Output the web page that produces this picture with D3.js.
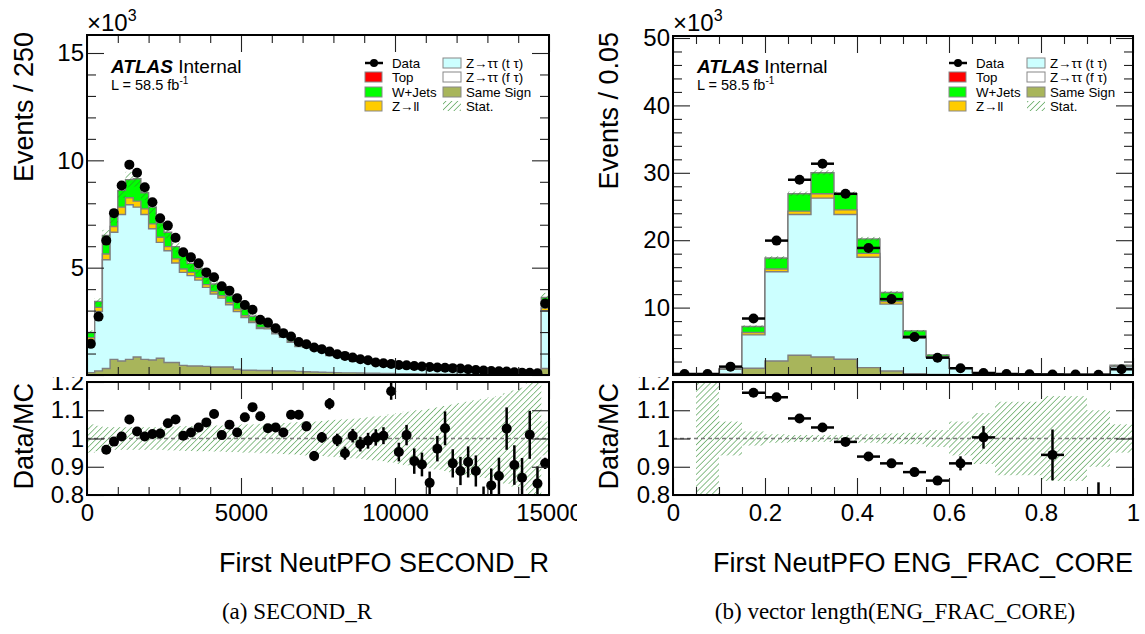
<!DOCTYPE html>
<html><head><meta charset="utf-8">
<script src="https://cdn.jsdelivr.net/npm/d3@7"></script>
<style>body{margin:0;background:#fff}svg{display:block}</style>
</head><body>
<script>
// ---------------- DATA (values in units of 10^3 events) ----------------
// (a) SECOND_R : 60 bins of 250 from 0 to 15000
const secondR_edges = d3.range(0, 15001, 250);
const secondR_data = [1.45,2.72,6.26,7.54,8.83,9.80,9.42,8.75,8.05,7.30,6.96,6.39,5.72,5.48,5.20,4.78,4.55,4.13,3.93,3.58,3.26,3.04,2.57,2.44,2.18,1.95,1.79,1.54,1.43,1.28,1.20,1.09,0.97,0.89,0.81,0.73,0.69,0.58,0.55,0.51,0.47,0.45,0.42,0.40,0.37,0.35,0.34,0.32,0.30,0.27,0.23,0.21,0.19,0.17,0.16,0.13,0.11,0.10,0.08,3.33];
const secondR_sameSign = [0.11,0.19,0.30,0.73,0.65,0.73,0.84,0.73,0.70,0.78,0.58,0.58,0.45,0.42,0.42,0.40,0.37,0.37,0.37,0.27,0.22,0.22,0.21,0.21,0.19,0.19,0.19,0.17,0.15,0.14,0.13,0.12,0.11,0.10,0.10,0.09,0.08,0.08,0.07,0.07,0.06,0.06,0.06,0.05,0.05,0.05,0.04,0.04,0.04,0.04,0.03,0.03,0.03,0.03,0.02,0.02,0.02,0.02,0.02,0.30];
const secondR_zttT = [1.51,2.77,5.07,5.92,6.83,7.20,6.98,6.75,6.11,5.40,5.21,4.64,4.33,4.21,4.00,3.68,3.40,3.21,2.90,2.69,2.46,2.22,1.95,1.94,1.73,1.57,1.33,1.15,1.14,1.15,1.00,0.79,0.80,0.78,0.66,0.61,0.58,0.47,0.44,0.34,0.40,0.35,0.37,0.36,0.36,0.29,0.27,0.29,0.28,0.24,0.22,0.23,0.19,0.16,0.12,0.11,0.11,0.08,0.075,2.69];
const secondR_zll = [0.12,0.19,0.27,0.27,0.34,0.33,0.28,0.26,0.23,0.24,0.19,0.19,0.16,0.15,0.13,0.13,0.12,0.11,0.11,0.11,0.08,0.07,0.06,0.06,0.05,0.04,0.04,0.03,0.03,0.02,0.02,0.02,0.02,0.02,0.01,0.01,0.01,0.01,0.01,0.01,0.01,0.01,0.01,0.01,0.01,0.01,0.01,0.01,0.01,0,0,0,0,0,0,0,0,0,0,0.13];
const secondR_wjets = [0.24,0.28,0.86,0.46,0.78,0.84,1.04,0.75,0.78,0.67,0.67,0.57,0.62,0.42,0.39,0.34,0.35,0.27,0.31,0.34,0.31,0.23,0.16,0.15,0.13,0.11,0.09,0.07,0.05,0.05,0.05,0.04,0.04,0.04,0.03,0.03,0.03,0.02,0.02,0.02,0.02,0.02,0.02,0.02,0.02,0.01,0.01,0.01,0.01,0.01,0.01,0.01,0.01,0.01,0.01,0.01,0,0,0,0.49];
const secondR_ratio = [null,null,0.960,0.989,1.007,1.067,1.025,1.007,1.016,1.018,1.054,1.067,1.010,1.021,1.039,1.057,1.087,1.012,1.049,1.021,1.075,1.111,1.079,1.036,1.039,1.021,1.084,1.084,1.043,0.938,1.004,1.123,0.995,0.948,1.010,0.980,0.992,1.004,1.010,1.167,0.952,1.012,0.920,0.908,0.843,0.964,1.036,0.912,0.885,0.917,0.885,0.760,0.834,0.867,1.035,0.906,0.861,1.013,0.841,0.912];
const secondR_ratioErr = [0,0,0.006,0.006,0.006,0.006,0.006,0.006,0.006,0.006,0.007,0.007,0.007,0.008,0.008,0.008,0.009,0.009,0.01,0.01,0.011,0.011,0.012,0.012,0.013,0.014,0.015,0.016,0.017,0.018,0.019,0.02,0.022,0.023,0.024,0.026,0.028,0.029,0.03,0.03,0.033,0.036,0.045,0.042,0.04,0.045,0.06,0.05,0.05,0.055,0.055,0.07,0.06,0.065,0.075,0.07,0.07,0.085,0.06,0.02];
const secondR_statBand = [0.05,0.045,0.04,0.04,0.04,0.04,0.04,0.04,0.04,0.04,0.042,0.042,0.044,0.044,0.045,0.045,0.046,0.046,0.048,0.048,0.05,0.05,0.052,0.052,0.054,0.055,0.056,0.058,0.06,0.06,0.062,0.064,0.066,0.068,0.07,0.072,0.075,0.078,0.08,0.085,0.09,0.095,0.1,0.1,0.105,0.11,0.115,0.12,0.125,0.13,0.135,0.14,0.145,0.15,0.16,0.17,0.18,0.2,0.22,0.06];

// (b) ENG_FRAC_CORE : 20 bins of 0.05 from 0 to 1
const engFrac_edges = d3.range(0, 1.0001, 0.05);
const engFrac_data = [0.15,0.15,1.24,8.38,19.94,28.97,31.35,26.89,18.85,11.26,5.65,2.57,1.00,0.30,0.15,0.10,0.08,0.06,0.05,0.85];
const engFrac_sameSign = [0,0,0.20,1.00,2.08,2.93,2.68,2.33,1.09,0.60,0.20,0.10,0.05,0.02,0.01,0.01,0,0,0,0.05];
const engFrac_zttT = [0.02,0.03,0.64,4.95,13.25,20.88,23.56,21.48,16.37,9.92,5.26,2.55,0.95,0.30,0.12,0.06,0.08,0.04,0.06,1.15];
const engFrac_zll = [0,0,0.02,0.35,0.39,0.50,0.65,0.69,0.59,0.39,0.30,0.05,0.02,0.01,0,0,0,0,0,0.05];
const engFrac_wjets = [0,0,0.02,0.89,1.64,2.58,3.12,2.39,2.14,1.34,0.79,0.28,0.08,0.02,0.01,0.01,0.005,0.005,0.005,0.19];
const engFrac_ratio = [null,null,null,1.162,1.146,1.071,1.039,0.988,0.936,0.912,0.881,0.851,0.912,1.004,null,null,0.942,null,0.70,null];
const engFrac_ratioErr = [0,0,0,0.004,0.003,0.003,0.003,0.003,0.003,0.004,0.005,0.008,0.025,0.04,0,0,0.09,0,0.145,0];
const engFrac_statBand = [null,1.0,0.06,0.025,0.015,0.012,0.012,0.012,0.015,0.018,0.02,0.03,0.06,0.09,0.13,0.13,0.15,0.15,0.1,0.05];

// tick labels
const secondR_xTicks = [0, 5000, 10000, 15000];
const secondR_yTicks = [0, 5, 10, 15];
const engFrac_xTicks = [0, 0.2, 0.4, 0.6, 0.8, 1];
const engFrac_yTicks = [0, 10, 20, 30, 40, 50];
const ratio_yTicks = [0.8, 0.9, 1, 1.1, 1.2];

const legendCol1 = ["Data", "Top", "W+Jets", "Z\u2192ll"];
const legendCol2 = ["Z\u2192\u03c4\u03c4 (t \u03c4)", "Z\u2192\u03c4\u03c4 (f \u03c4)", "Same Sign", "Stat."];

// ---------------- STYLE ----------------
const SANS = "'Liberation Sans', Arial, Helvetica, sans-serif";
const SERIF = "'Liberation Serif', 'Times New Roman', serif";
const COL = {ss:"#a8b55b", ztt:"#ccffff", zttf:"#ffffff", zll:"#ffcc00", wj:"#00ff00", top:"#ff0000", edge:"#7f7f7f"};

const svg = d3.select("body").append("svg").attr("width",1145).attr("height",634);
svg.append("rect").attr("width",1145).attr("height",634).attr("fill","#fff");
const defs = svg.append("defs");
defs.append("pattern").attr("id","hatch").attr("patternUnits","userSpaceOnUse")
  .attr("width",4.2).attr("height",4.2).attr("patternTransform","rotate(45)")
  .append("line").attr("x1",0).attr("y1",0).attr("x2",0).attr("y2",4.2)
  .attr("stroke","#2e8b2e").attr("stroke-width",1.1);

function fmtNum(d){ return String(+d.toFixed(2)); }
function fmtNoZero(d){ return d === 0 ? "" : fmtNum(d); }

function drawPanel(p){
  const g = svg.append("g");
  const id = p.id;
  const x = d3.scaleLinear().domain([p.edges[0], p.edges[p.edges.length-1]]).range([p.x0, p.x1]);
  const y = d3.scaleLinear().domain([0, p.ymaxTick]).range([p.yBase, p.yTickTop]);
  const r = d3.scaleLinear().domain([0.8, 1.2]).range([p.rBot, p.rTop]);
  const n = p.data.length;

  defs.append("clipPath").attr("id","top"+id).append("rect")
    .attr("x",p.x0).attr("y",p.yTop).attr("width",p.x1-p.x0).attr("height",p.yBase-p.yTop);
  defs.append("clipPath").attr("id","rat"+id).append("rect")
    .attr("x",p.x0).attr("y",p.rTop).attr("width",p.x1-p.x0).attr("height",p.rBot-p.rTop);

  // ---- ratio pad ----
  const rg = g.append("g");
  const rc = rg.append("g").attr("clip-path",`url(#rat${id})`);
  rc.selectAll("rect.band").data(p.band.map((b,i)=>({b,i})).filter(d=>d.b!==null)).join("rect")
    .attr("x",d=>x(p.edges[d.i])).attr("width",d=>x(p.edges[d.i+1])-x(p.edges[d.i]))
    .attr("y",d=>r(1+d.b)).attr("height",d=>r(1-d.b)-r(1+d.b)).attr("fill","url(#hatch)");
  rc.append("line").attr("x1",p.x0).attr("x2",p.x1).attr("y1",r(1)).attr("y2",r(1))
    .attr("stroke","#7a7a7a").attr("stroke-width",1.3).attr("stroke-dasharray","4,3");
  const rpts = p.ratio.map((v,i)=>({v,i,e:p.ratioErr[i]})).filter(d=>d.v!==null);
  rc.selectAll("line.ve").data(rpts).join("line")
    .attr("x1",d=>x((p.edges[d.i]+p.edges[d.i+1])/2)).attr("x2",d=>x((p.edges[d.i]+p.edges[d.i+1])/2))
    .attr("y1",d=>r(d.v-d.e)).attr("y2",d=>r(d.v+d.e)).attr("stroke","#000").attr("stroke-width",2.5);
  rc.selectAll("line.he").data(rpts).join("line")
    .attr("x1",d=>x(p.edges[d.i])).attr("x2",d=>x(p.edges[d.i+1]))
    .attr("y1",d=>r(d.v)).attr("y2",d=>r(d.v)).attr("stroke","#000").attr("stroke-width",2.5);
  rc.selectAll("circle").data(rpts).join("circle")
    .attr("cx",d=>x((p.edges[d.i]+p.edges[d.i+1])/2)).attr("cy",d=>r(d.v)).attr("r",p.dotR).attr("fill","#000");

  // ratio axes
  const tickStroke = g2 => { g2.select(".domain").remove(); g2.selectAll(".tick line").attr("stroke","#222").attr("stroke-width",1.1); g2.selectAll("text").attr("font-family",SANS).attr("font-size",24).attr("fill","#000"); };
  rg.append("g").attr("transform",`translate(${p.x0},0)`)
    .call(d3.axisLeft(r).tickValues(ratio_yTicks).tickSize(-17).tickPadding(3).tickFormat(fmtNum)).call(tickStroke);
  rg.append("g").attr("transform",`translate(${p.x1},0)`)
    .call(d3.axisRight(r).tickValues(ratio_yTicks).tickSize(-17).tickFormat("")).call(tickStroke);
  const xlab = rg.append("g").attr("clip-path", p.labelClip ? `url(#lc${id})` : null);
  if (p.labelClip) defs.append("clipPath").attr("id","lc"+id).append("rect").attr("x",0).attr("y",0).attr("width",p.labelClip).attr("height",634);
  xlab.append("g").attr("transform",`translate(0,${p.rBot})`)
    .call(d3.axisBottom(x).tickValues(p.xTicks).tickSize(-17).tickPadding(9).tickFormat(fmtNum)).call(tickStroke);
  rg.append("g").attr("transform",`translate(0,${p.rBot})`)
    .call(d3.axisBottom(x).tickValues(p.xMinor).tickSize(-8).tickFormat("")).call(tickStroke);
  rg.append("g").attr("transform",`translate(0,${p.rTop})`)
    .call(d3.axisTop(x).tickValues(p.xTicks).tickSize(-17).tickFormat("")).call(tickStroke);
  rg.append("g").attr("transform",`translate(0,${p.rTop})`)
    .call(d3.axisTop(x).tickValues(p.xMinor).tickSize(-8).tickFormat("")).call(tickStroke);
  rg.append("rect").attr("x",p.x0).attr("y",p.rTop).attr("width",p.x1-p.x0).attr("height",p.rBot-p.rTop)
    .attr("fill","none").attr("stroke","#000").attr("stroke-width",2);

  // ---- top pad (white background covers ratio overflow) ----
  const tg = g.append("g");
  tg.append("rect").attr("x",p.padX0).attr("y",0).attr("width",p.padX1-p.padX0).attr("height",p.padBottom).attr("fill","#fff");
  const tc = tg.append("g").attr("clip-path",`url(#top${id})`);
  const c1 = p.ss, c2 = c1.map((v,i)=>v+p.ztt[i]), c3 = c2.map((v,i)=>v+p.zll[i]), c4 = c3.map((v,i)=>v+p.wj[i]);
  const pts = vals => vals.map((v,i)=>({e:p.edges[i], v})).concat([{e:p.edges[n], v:vals[n-1]}]);
  const area = d3.area().x(d=>x(d.e)).y0(y(0)).y1(d=>y(d.v)).curve(d3.curveStepAfter);
  [[c4,COL.wj],[c3,COL.zll],[c2,COL.ztt],[c1,COL.ss]].forEach(([vals,col])=>{
    tc.append("path").attr("d",area(pts(vals))).attr("fill",col).attr("stroke",COL.edge).attr("stroke-width",1.4);
  });
  tc.selectAll("rect.band").data(p.band.map((b,i)=>({b,i})).filter(d=>d.b!==null && d.b<0.5)).join("rect")
    .attr("x",d=>x(p.edges[d.i])).attr("width",d=>x(p.edges[d.i+1])-x(p.edges[d.i]))
    .attr("y",d=>y(c4[d.i]*(1+d.b))).attr("height",d=>Math.max(0,y(c4[d.i]*(1-d.b))-y(c4[d.i]*(1+d.b))))
    .attr("fill","url(#hatch)");
  const dpts = p.data.map((v,i)=>({v,i}));
  if (p.hbars) tc.selectAll("line.he").data(dpts).join("line")
    .attr("x1",d=>x(p.edges[d.i])).attr("x2",d=>x(p.edges[d.i+1]))
    .attr("y1",d=>y(d.v)).attr("y2",d=>y(d.v)).attr("stroke","#000").attr("stroke-width",2.5);
  tc.selectAll("circle").data(dpts).join("circle")
    .attr("cx",d=>x((p.edges[d.i]+p.edges[d.i+1])/2)).attr("cy",d=>y(d.v)).attr("r",p.dotR).attr("fill","#000");

  // top axes
  tg.append("g").attr("transform",`translate(${p.x0},0)`)
    .call(d3.axisLeft(y).tickValues(p.yTicks).tickSize(-17).tickPadding(3).tickFormat(fmtNoZero)).call(tickStroke);
  tg.append("g").attr("transform",`translate(${p.x0},0)`)
    .call(d3.axisLeft(y).tickValues(p.yMinor).tickSize(-9).tickFormat("")).call(tickStroke);
  tg.append("g").attr("transform",`translate(${p.x1},0)`)
    .call(d3.axisRight(y).tickValues(p.yTicks).tickSize(-17).tickFormat("")).call(tickStroke);
  tg.append("g").attr("transform",`translate(${p.x1},0)`)
    .call(d3.axisRight(y).tickValues(p.yMinor).tickSize(-9).tickFormat("")).call(tickStroke);
  tg.append("g").attr("transform",`translate(0,${p.yBase})`)
    .call(d3.axisBottom(x).tickValues(p.xTicks).tickSize(-17).tickFormat("")).call(tickStroke);
  tg.append("g").attr("transform",`translate(0,${p.yBase})`)
    .call(d3.axisBottom(x).tickValues(p.xMinor).tickSize(-8).tickFormat("")).call(tickStroke);
  tg.append("g").attr("transform",`translate(0,${p.yTop})`)
    .call(d3.axisTop(x).tickValues(p.xTicks).tickSize(-17).tickFormat("")).call(tickStroke);
  tg.append("g").attr("transform",`translate(0,${p.yTop})`)
    .call(d3.axisTop(x).tickValues(p.xMinor).tickSize(-8).tickFormat("")).call(tickStroke);
  tg.append("rect").attr("x",p.x0).attr("y",p.yTop).attr("width",p.x1-p.x0).attr("height",p.yBase-p.yTop)
    .attr("fill","none").attr("stroke","#000").attr("stroke-width",2);

  const ex = tg.append("text").attr("x",p.x0).attr("y",31).attr("font-family",SANS).attr("font-size",24);
  ex.append("tspan").text("\u00d710");
  ex.append("tspan").attr("dy",-10).attr("font-size",16).text("3");

  const at = tg.append("text").attr("x",p.x0+24).attr("y",73).attr("font-family",SANS).attr("font-size",19);
  at.append("tspan").attr("font-weight","bold").attr("font-style","italic").text("ATLAS");
  at.append("tspan").text(" Internal");
  const lt = tg.append("text").attr("x",p.x0+24).attr("y",90).attr("font-family",SANS).attr("font-size",14.5);
  lt.append("tspan").text("L = 58.5 fb");
  lt.append("tspan").attr("dy",-6).attr("font-size",10).text("-1");

  const lg = tg.append("g").attr("font-family",SANS).attr("font-size",13.3);
  const rows = [63,77,92,106];
  const cols1 = [null, COL.top, COL.wj, COL.zll];
  const cols2 = [COL.ztt, COL.zttf, COL.ss, "hatch"];
  legendCol1.forEach((t,k)=>{
    const yy = rows[k];
    if (k===0){
      lg.append("line").attr("x1",p.x1-184).attr("x2",p.x1-166).attr("y1",yy).attr("y2",yy).attr("stroke","#000").attr("stroke-width",2.5);
      lg.append("circle").attr("cx",p.x1-175).attr("cy",yy).attr("r",4).attr("fill","#000");
    } else {
      lg.append("rect").attr("x",p.x1-184).attr("y",yy-5).attr("width",17).attr("height",10).attr("fill",cols1[k]).attr("stroke","#888").attr("stroke-width",1);
    }
    lg.append("text").attr("x",p.x1-157).attr("y",yy+4.7).text(t);
  });
  legendCol2.forEach((t,k)=>{
    const yy = rows[k];
    if (cols2[k]==="hatch") lg.append("rect").attr("x",p.x1-106).attr("y",yy-5).attr("width",18).attr("height",10).attr("fill","url(#hatch)");
    else lg.append("rect").attr("x",p.x1-106).attr("y",yy-5).attr("width",18).attr("height",10).attr("fill",cols2[k]).attr("stroke","#888").attr("stroke-width",1);
    lg.append("text").attr("x",p.x1-83).attr("y",yy+4.7).text(t);
  });

  g.append("text").attr("transform",`translate(${p.yTitleX},32) rotate(-90)`).attr("text-anchor","end")
    .attr("font-family",SANS).attr("font-size",27).text(p.yTitle);
  g.append("text").attr("transform",`translate(${p.yTitleX},383) rotate(-90)`).attr("text-anchor","end")
    .attr("font-family",SANS).attr("font-size",27).text("Data/MC");
  g.append("text").attr("x",p.x1).attr("y",572).attr("text-anchor","end")
    .attr("font-family",SANS).attr("font-size",27).text(p.xTitle);
  g.append("text").attr("x",p.capX).attr("y",619).attr("text-anchor","middle")
    .attr("font-family",SERIF).attr("font-size",23).text(p.caption);
}

drawPanel({
  id:"L", edges:secondR_edges, data:secondR_data, ss:secondR_sameSign, ztt:secondR_zttT, zll:secondR_zll, wj:secondR_wjets,
  ratio:secondR_ratio, ratioErr:secondR_ratioErr, band:secondR_statBand,
  x0:87, x1:549, yTop:35, yBase:375, yTickTop:53, ymaxTick:15, rTop:382, rBot:495,
  padX0:0, padX1:580, padBottom:377,
  xTicks:secondR_xTicks, xMinor:d3.range(1000,15000,1000).filter(v=>v%5000!==0),
  yTicks:secondR_yTicks, yMinor:[1,2,3,4,6,7,8,9,11,12,13,14],
  dotR:5, hbars:false, labelClip:577,
  yTitle:"Events / 250", yTitleX:33, xTitle:"First NeutPFO SECOND_R", capX:297, caption:"(a) SECOND_R"
});
drawPanel({
  id:"R", edges:engFrac_edges, data:engFrac_data, ss:engFrac_sameSign, ztt:engFrac_zttT, zll:engFrac_zll, wj:engFrac_wjets,
  ratio:engFrac_ratio, ratioErr:engFrac_ratioErr, band:engFrac_statBand,
  x0:673, x1:1133, yTop:36, yBase:375, yTickTop:38, ymaxTick:50, rTop:382, rBot:495,
  padX0:580, padX1:1145, padBottom:377,
  xTicks:engFrac_xTicks, xMinor:[0.05,0.1,0.15,0.25,0.3,0.35,0.45,0.5,0.55,0.65,0.7,0.75,0.85,0.9,0.95],
  yTicks:engFrac_yTicks, yMinor:[2,4,6,8,12,14,16,18,22,24,26,28,32,34,36,38,42,44,46,48],
  dotR:5, hbars:true, labelClip:null,
  yTitle:"Events / 0.05", yTitleX:618, xTitle:"First NeutPFO ENG_FRAC_CORE", capX:895, caption:"(b) vector length(ENG_FRAC_CORE)"
});
</script>
</body></html>
